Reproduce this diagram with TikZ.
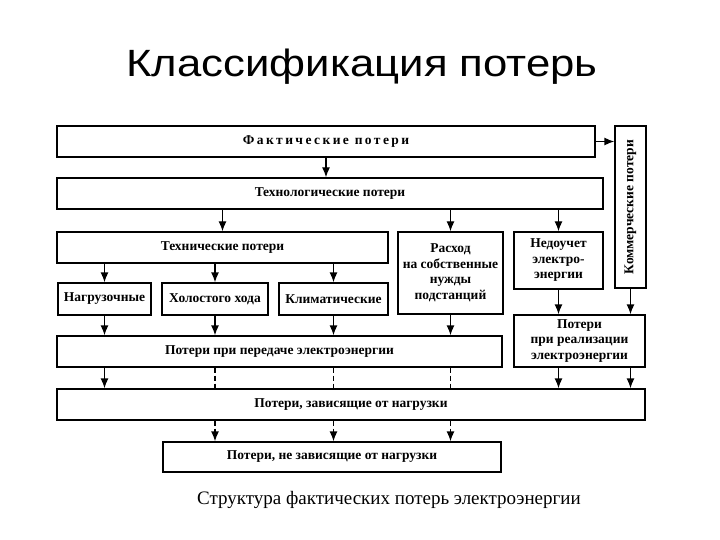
\documentclass[tikz,border=0pt]{standalone}
\usepackage{fontspec}
\setmainfont{Liberation Serif}
\newfontfamily\titlefont[FakeStretch=1.15]{Liberation Sans}
\newfontfamily\spacedfont[LetterSpace=18]{Liberation Serif}
\usetikzlibrary{arrows.meta}

\begin{document}
\begin{tikzpicture}[
  x=1pt, y=-1pt,
  box/.style={draw, line width=1.3pt, inner sep=0pt, align=center,
    font=\fontsize{13.5}{15.5}\selectfont\bfseries},
  arr/.style={-{Latex[length=10pt,width=8pt]}, line width=1.3pt},
  dashline/.style={line width=1.3pt, dash pattern=on 5pt off 3pt}
  ]

\useasboundingbox (0,0) rectangle (720,540);

\node[font=\titlefont\fontsize{38}{42}\selectfont] (title) at (362,67) {Классификация потерь};

% upper level
\node[box, minimum width=538, minimum height=31,
  font=\spacedfont\fontsize{13.5}{15}\selectfont\bfseries] (fakt) at (326,141.5) {Фактические потери};
\node[box, minimum width=31, minimum height=162] (komm) at (630.5,207)
  {\rotatebox{90}{Коммерческие потери}};
\node[box, minimum width=546, minimum height=31] (tehnol) at (330,193.5) {Технологические потери};

% second level
\node[box, minimum width=331, minimum height=31] (tehn) at (222.5,247.5) {Технические потери};
\node[box, minimum width=105, minimum height=82] (rashod) at (450.5,273)
  {Расход\\на собственные\\нужды\\подстанций};
\node[box, minimum width=89, minimum height=57] (nedouchet) at (558.5,260.5)
  {Недоучет\\электро-\\энергии};

% kinds of technical losses
\node[box, minimum width=93, minimum height=32] (nagr) at (104.5,299) {Нагрузочные};
\node[box, minimum width=106, minimum height=32] (xolost) at (215,299) {Холостого хода};
\node[box, minimum width=109, minimum height=32] (klimat) at (333.5,299) {Климатические};

\node[box, minimum width=445, minimum height=31] (pered) at (279.5,351.5) {Потери при передаче электроэнергии};
\node[box, minimum width=131, minimum height=52] (real) at (579.5,341)
  {Потери\\при реализации\\электроэнергии};

% bottom
\node[box, minimum width=588, minimum height=31] (zav) at (351,404.5) {Потери, зависящие от нагрузки};
\node[box, minimum width=338, minimum height=30] (nezav) at (332,457) {Потери, не зависящие от нагрузки};

\node[font=\fontsize{19}{21}\selectfont] (caption) at (389,500) {Структура фактических потерь электроэнергии};

% connectors
\draw[arr] (fakt.east) -- (komm.west |- fakt.east);
\draw[arr] (fakt.south) -- (fakt.south |- tehnol.north);
\draw[arr] (tehnol.south -| tehn) -- (tehn.north);
\draw[arr] (tehnol.south -| rashod) -- (rashod.north);
\draw[arr] (tehnol.south -| nedouchet) -- (nedouchet.north);

\foreach \n in {nagr, xolost, klimat} {
  \draw[arr] (tehn.south -| \n) -- (\n.north);
  \draw[arr] (\n.south) -- (pered.north -| \n);
}
\draw[arr] (rashod.south) -- (pered.north -| rashod);
\draw[arr] (nedouchet.south) -- (real.north -| nedouchet);
\draw[arr] (komm.south) -- (real.north -| komm);

\draw[arr] (pered.south -| nagr) -- (zav.north -| nagr);
\foreach \n in {xolost, klimat, rashod} {
  \draw[dashline] (pered.south -| \n) -- (zav.north -| \n);
  \draw[dashline, arr] (zav.south -| \n) -- (nezav.north -| \n);
}
\draw[arr] (real.south -| nedouchet) -- (zav.north -| nedouchet);
\draw[arr] (real.south -| komm) -- (zav.north -| komm);

\end{tikzpicture}
\end{document}
